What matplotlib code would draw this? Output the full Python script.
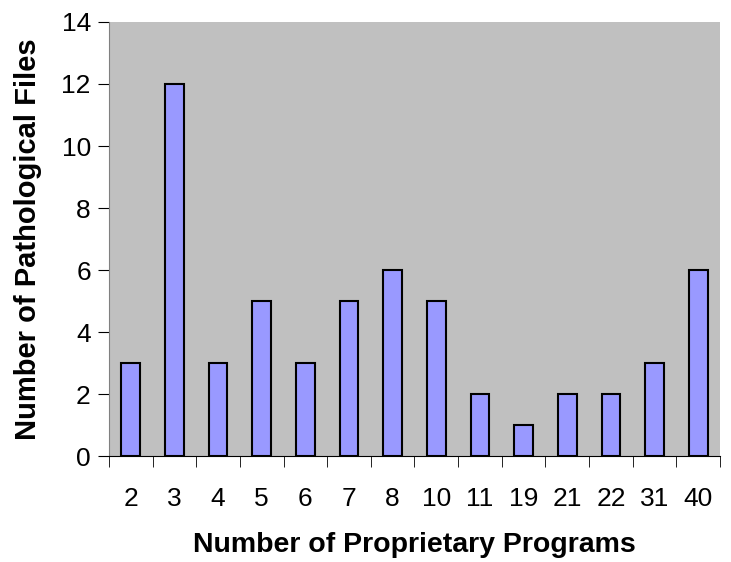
import numpy as np
import matplotlib.pyplot as plt

programs = ['2', '3', '4', '5', '6', '7', '8', '10', '11', '19', '21', '22', '31', '40']
files = [3, 12, 3, 5, 3, 5, 6, 5, 2, 1, 2, 2, 3, 6]

plt.rcParams['font.family'] = ['Liberation Sans', 'DejaVu Sans']

fig = plt.figure(figsize=(7.31, 5.62), dpi=100)
ax = fig.add_axes([0.149, 0.188, 0.836, 0.773])
ax.set_facecolor('#C0C0C0')

x = np.arange(len(programs))
ax.bar(x, files, width=0.43, color='#9999FF', edgecolor='black', linewidth=1.5, zorder=3)

ax.set_xlim(-0.5, len(programs) - 0.5)
ax.set_ylim(0, 14)
ax.set_yticks(range(0, 15, 2))
ax.tick_params(axis='y', labelsize=19, length=8, direction='out', pad=5)

# category labels centred, tick marks between categories
ax.set_xticks(x)
ax.set_xticklabels(programs, fontsize=19)
ax.tick_params(axis='x', which='major', length=0, pad=22)
ax.set_xticks(np.arange(-0.5, len(programs), 1), minor=True)
ax.tick_params(axis='x', which='minor', length=8, direction='out')

for side in ['top', 'right']:
    ax.spines[side].set_visible(False)
ax.spines['left'].set_color('#808080')
ax.spines['bottom'].set_color('black')

ax.set_xlabel('Number of Proprietary Programs', fontsize=20.5, fontweight='bold', labelpad=15)
ax.set_ylabel('Number of Pathological Files', fontsize=21, fontweight='bold', labelpad=14)

fig.savefig('out.png', dpi=100)
